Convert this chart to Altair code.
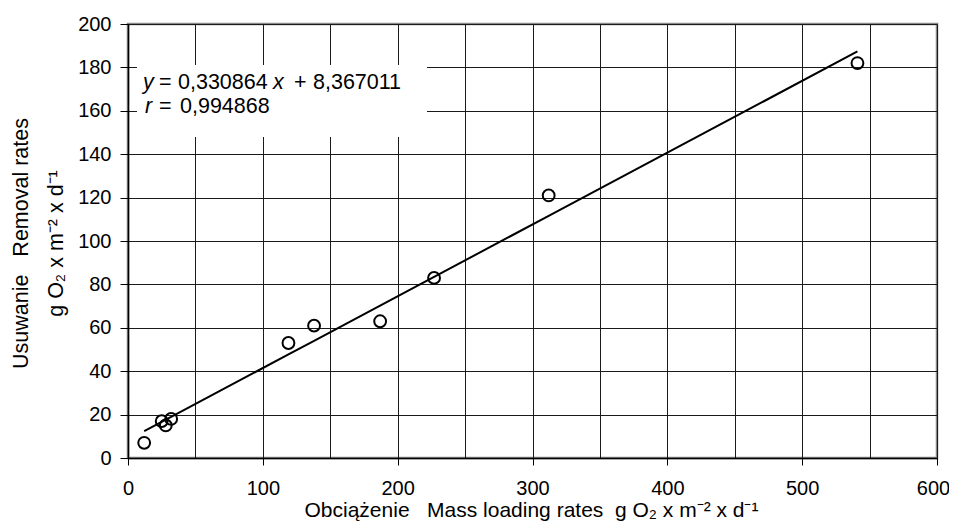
import altair as alt
import pandas as pd

# ---- data ----
mass_loading = [12, 25, 28, 32, 119, 138, 187, 227, 312, 541]
removal = [7, 17, 15, 18, 53, 61, 63, 83, 121, 182]

slope = 0.330864
intercept = 8.367011

eq_line1_texts = ["y", "=", "0,330864", "x", "+", "8,367011"]
eq_line1_styles = ["italic", "normal", "normal", "italic", "normal", "normal"]
eq_line2_texts = ["r", "=", "0,994868"]
eq_line2_styles = ["italic", "normal", "normal"]

NB = "\u00a0"
x_title = f"Obciążenie{NB}{NB} Mass loading rates{NB} g O₂ x m⁻² x d⁻¹"
y_title = [f"Usuwanie{NB}{NB} Removal rates", f"{NB}{NB}{NB}{NB}g O₂ x m⁻² x d⁻¹"]

x_values = list(range(0, 601, 50))
y_values = list(range(0, 201, 20))

# ---- layout / style ----
FONT = "Liberation Sans"
eq_line1_pos = [15, 31, 50, 145, 166, 185]
eq_line2_pos = [17, 31, 52]
eq_line1_y = 64.7
eq_line2_y = 89

df = pd.DataFrame({"load": mass_loading, "removal": removal})
one = pd.DataFrame({"k": [0]})

xscale = alt.Scale(domain=[0, 600], nice=False, zero=False)
yscale = alt.Scale(domain=[0, 200], nice=False)

x_axis = alt.Axis(
    values=x_values,
    labelExpr="datum.value % 100 === 0 ? datum.label : ''",
    tickOpacity={"condition": {"test": "datum.value % 100 === 0", "value": 1}, "value": 0},
    labelOffset={"condition": {"test": "datum.value === 600", "value": -4}, "value": 0},
    tickSize=7,
    labelPadding=13,
    labelOverlap=False,
    labelFlush=False,
    title=x_title,
    titleX=403,
    titleY=58,
    titleAlign="center",
    titleBaseline="alphabetic",
    titleAngle=0,
    titleFontSize=21,
)
y_axis = alt.Axis(
    values=y_values,
    tickSize=8,
    labelPadding=9,
    labelOverlap=False,
    labelFlush=False,
    title=y_title,
    titleAngle=270,
    titleX=-101,
    titleY=219,
    titleAlign="center",
    titleBaseline="alphabetic",
    titleLineHeight=35,
)

X = alt.X("load:Q", scale=xscale, axis=x_axis)
Y = alt.Y("removal:Q", scale=yscale, axis=y_axis)

box = alt.Chart(one).mark_rect(fill="white").encode(
    x=alt.value(9), x2=alt.value(299), y=alt.value(41), y2=alt.value(113)
)

texts = []
for t, s, px in zip(eq_line1_texts, eq_line1_styles, eq_line1_pos):
    texts.append(
        alt.Chart(one).mark_text(text=t, font=FONT, fontSize=21.5, fontStyle=s,
                                 align="left", baseline="alphabetic", color="black")
        .encode(x=alt.value(px), y=alt.value(eq_line1_y))
    )
for t, s, px in zip(eq_line2_texts, eq_line2_styles, eq_line2_pos):
    texts.append(
        alt.Chart(one).mark_text(text=t, font=FONT, fontSize=21.5, fontStyle=s,
                                 align="left", baseline="alphabetic", color="black")
        .encode(x=alt.value(px), y=alt.value(eq_line2_y))
    )

fit = alt.Chart(df).transform_calculate(
    fit=f"{slope} * datum.load + {intercept}"
).mark_line(color="black", strokeWidth=2).encode(
    x=X, y=alt.Y("fit:Q", scale=yscale, axis=y_axis), order="load:Q"
)

points = alt.Chart(df).mark_point(
    shape="circle", filled=False, color="black", strokeWidth=2, size=140, opacity=1
).encode(x=X, y=Y)

chart = alt.layer(box, *texts, fit, points).properties(
    width=809,
    height=434,
    padding={"left": 120, "top": 16, "right": 12, "bottom": 63},
    autosize="none",
    background="white",
).configure_view(
    stroke="#888888", strokeWidth=2.5
).configure_axis(
    grid=True,
    gridColor="#1a1a1a",
    gridWidth=1,
    gridOpacity=1,
    domainColor="black",
    domainWidth=1.5,
    tickColor="black",
    tickWidth=1,
    labelFont=FONT,
    labelFontSize=20,
    labelColor="black",
    titleFont=FONT,
    titleFontSize=21.5,
    titleFontWeight="normal",
    titleColor="black",
)

chart.save("out.html", embed_options={"renderer": "svg", "actions": False})
